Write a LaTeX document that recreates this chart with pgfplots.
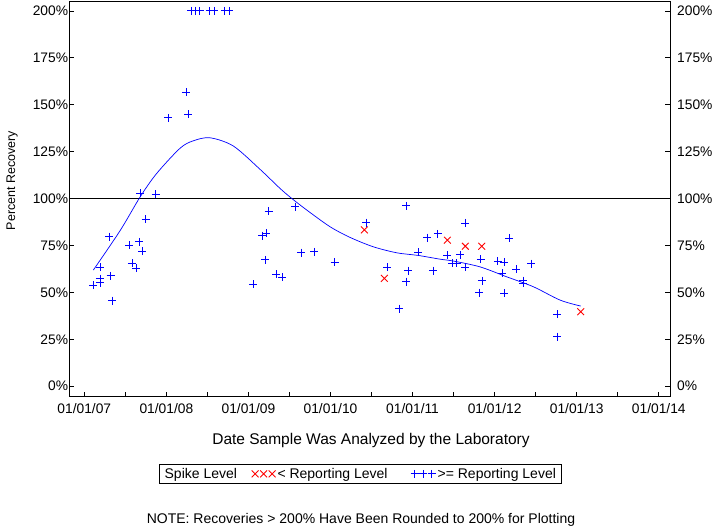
\documentclass[border=0pt]{standalone}
\usepackage{pgfplots}
\pgfplotsset{compat=1.18}
\usepackage{fontspec}
\setmainfont{Liberation Sans}
\definecolor{mblue}{RGB}{0,0,255}
\definecolor{mred}{RGB}{255,0,0}
\pgfplotsset{
  geom/.style={
    at={(69.3pt,131.3pt)}, anchor=south west,
    scale only axis, width=600.7pt, height=395.7pt,
    xmin=2006.817, xmax=2014.137, ymin=-5.6, ymax=205.3,
    ytick={0,25,...,200},
    yticklabels={0\%,25\%,50\%,75\%,100\%,125\%,150\%,175\%,200\%},
    tick align=inside, major tick length=5pt, minor tick length=5pt,
    every tick/.style={black, line width=0.8pt},
    axis line style={line width=0.8pt},
    ticklabel style={font=\fontsize{13.8}{16}\selectfont},
  }
}
\begin{document}
\begin{tikzpicture}[x=1pt,y=1pt]
\path[use as bounding box] (0,0) rectangle (720,528);
\begin{axis}[geom,
  xtick={2007,2008,2009,2010,2011,2012,2013,2014},
  xticklabels={01/01/07,01/01/08,01/01/09,01/01/10,01/01/11,01/01/12,01/01/13,01/01/14},
  minor xtick={2007.5,2008.5,2009.5,2010.5,2011.5,2012.5,2013.5},
  xtick pos=left, ytick pos=left,
  yticklabel style={inner sep=1pt},
  xticklabel style={yshift=-3pt},
  clip=false,
  legend columns=3,
  legend style={at={(axis description cs:0.4844,-0.195)}, anchor=center,
    draw=black, line width=0.8pt, font=\fontsize{14}{16}\selectfont,
    inner xsep=3pt, inner ysep=2pt,
    /tikz/column 2/.style={column sep=12.7pt},
    /tikz/column 4/.style={column sep=21pt}},
  legend image code/.code={\draw[#1] plot coordinates {(0pt,0pt) (8.5pt,0pt) (17pt,0pt)};},
]
\addlegendimage{empty legend}
\addlegendentry{Spike Level}
\addplot[only marks, mark=x, mark size=4.8pt, color=mred, line width=0.9pt] coordinates {
(2010.412,83.3) (2010.656,57.5) (2011.424,77.8) (2011.643,74.6) (2011.843,74.6) (2013.049,39.7)
};
\addlegendentry{< Reporting Level}
\addplot[only marks, mark=+, mark size=4pt, color=mblue, line width=0.9pt] coordinates {
(2007.106,53.8) (2007.191,63.4) (2007.191,57.3) (2007.191,55.2) (2007.305,79.7)
(2007.322,58.8) (2007.341,45.6) (2007.548,75.1) (2007.581,65.5) (2007.630,62.9)
(2007.670,76.9) (2007.682,102.9) (2007.707,71.9) (2007.748,89.0) (2007.870,102.3)
(2008.024,143.0) (2008.239,156.7) (2008.267,145.0)
(2008.300,200) (2008.355,200) (2008.404,200) (2008.526,200) (2008.581,200) (2008.709,200) (2008.763,200)
(2009.059,54.3) (2009.166,80.3) (2009.202,67.3) (2009.218,81.5) (2009.247,93.3)
(2009.336,59.7) (2009.413,58.1) (2009.571,95.7) (2009.644,71.2) (2009.799,71.6)
(2010.051,66.1) (2010.433,87.2) (2010.692,63.4) (2010.835,41.3) (2010.920,96.1)
(2010.948,61.6) (2010.924,55.7) (2011.067,71.4) (2011.176,79.2) (2011.253,61.6)
(2011.307,81.2) (2011.424,69.8) (2011.481,65.5) (2011.538,65.5) (2011.578,70.0)
(2011.643,87.0) (2011.643,63.4) (2011.831,67.7) (2011.846,56.3) (2011.814,49.9)
(2012.038,66.6) (2012.118,66.1) (2012.094,60.2) (2012.118,49.5) (2012.179,78.9)
(2012.264,62.3) (2012.346,56.3) (2012.346,54.9) (2012.444,65.3) (2012.764,38.3)
(2012.764,26.4)
};
\addlegendentry{>= Reporting Level}
\addplot[forget plot, black, line width=0.8pt] coordinates {(2006.817,100) (2014.137,100)};
\addplot[forget plot, mblue, line width=0.7pt, smooth] coordinates {
(2007.110,61.9) (2007.436,82.9) (2007.682,101.0) (2007.882,113.4) (2008.166,126.8)
(2008.328,130.8) (2008.532,132.4) (2008.816,128.0) (2009.141,115.6) (2009.385,105.4)
(2009.527,100.1) (2009.710,93.9) (2009.994,85.0) (2010.238,79.3) (2010.522,74.3)
(2010.807,71.1) (2011.067,69.7) (2011.335,67.7) (2011.497,66.7) (2011.822,63.6)
(2012.147,58.3) (2012.472,53.0) (2012.797,45.9) (2013.049,42.7)
};
\end{axis}
\begin{axis}[geom,
  hide x axis, axis y line*=right,
  ytick pos=right, yticklabel pos=right,
  yticklabel style={inner sep=1pt, xshift=6pt},
]
\addplot[draw=none] coordinates {(2010,50)};
\end{axis}
\node[font=\fontsize{15.5}{18}\selectfont] at (371,88) {Date Sample Was Analyzed by the Laboratory};
\node[font=\fontsize{12.5}{15}\selectfont, rotate=90] at (12,347.5) {Percent Recovery};
\node[font=\fontsize{14}{16}\selectfont] at (361,8) {NOTE: Recoveries > 200\% Have Been Rounded to 200\% for Plotting};
\end{tikzpicture}
\end{document}
